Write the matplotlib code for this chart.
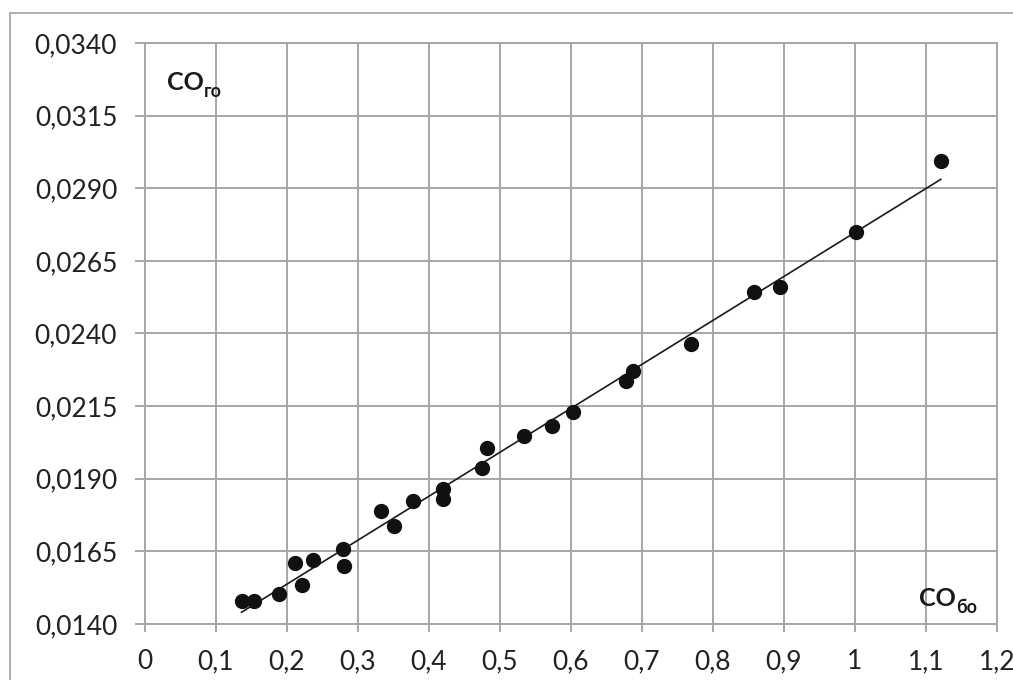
import numpy as np
import matplotlib.pyplot as plt
from matplotlib.patches import Rectangle

# measured points (CO_бо, CO_го)
co_bo = [0.136, 0.153, 0.189, 0.212, 0.221, 0.237, 0.279, 0.280, 0.332, 0.351,
         0.377, 0.420, 0.420, 0.475, 0.482, 0.534, 0.574, 0.603, 0.678, 0.687,
         0.769, 0.858, 0.895, 1.001, 1.121]
co_go = [0.01479, 0.01479, 0.01503, 0.01609, 0.01533, 0.01619, 0.01657, 0.01600, 0.01789, 0.01737,
         0.01822, 0.01866, 0.01830, 0.01936, 0.02005, 0.02048, 0.02083, 0.02131, 0.02238, 0.02272,
         0.02365, 0.02544, 0.02561, 0.02750, 0.02993]

xticks = np.arange(0, 1.21, 0.1)
yticks = np.arange(0.014, 0.03401, 0.0025)

def xfmt(v):
    s = ('%.1f' % v).rstrip('0').rstrip('.')
    return s.replace('.', ',')

plt.rcParams['font.family'] = ['Lato', 'DejaVu Sans']

fig = plt.figure(figsize=(10.13, 6.80), dpi=100)
fig.patches.append(Rectangle((0.0099, -0.1), 1.2, 1.081, transform=fig.transFigure,
                             fill=False, edgecolor='#a8a8a8', lw=1.3))

ax = fig.add_axes([0.1431, 0.0824, 0.841, 0.8544])
gridc = '#a6a6a6'

x = np.array(co_bo)
y = np.array(co_go)
k, b = np.polyfit(x, y, 1)
xl = np.array([x.min(), x.max()])
ax.plot(xl, k * xl + b, color='#1a1a1a', lw=1.2, zorder=3)
ax.plot(x, y, 'o', color='#111111', ms=10, zorder=4)

ax.set_xlim(0, 1.2)
ax.set_ylim(0.014, 0.034)
ax.set_xticks(xticks)
ax.set_yticks(yticks)
ax.set_xticklabels([xfmt(v) for v in xticks])
ax.set_yticklabels([('%.4f' % v).replace('.', ',') for v in yticks])
ax.grid(True, color=gridc, lw=1.4)
ax.set_axisbelow(True)
for s in ax.spines.values():
    s.set_color(gridc)
    s.set_linewidth(1.4)
ax.tick_params(axis='both', colors=gridc, width=1.4, labelcolor='#222222', labelsize=19)
ax.tick_params(axis='y', length=7, pad=13)
ax.tick_params(axis='x', length=6, pad=12)

t1 = ax.text(0.031, 0.03238, 'CO', fontsize=18, fontweight='bold', color='#1a1a1a')
ax.annotate('го', xy=(1, 0), xycoords=t1, xytext=(0, -4), textcoords='offset points',
            fontsize=13, fontweight='bold', color='#1a1a1a', va='bottom')
t2 = ax.text(1.090, 0.01461, 'CO', fontsize=18, fontweight='bold', color='#1a1a1a')
ax.annotate('бо', xy=(1, 0), xycoords=t2, xytext=(0, -4), textcoords='offset points',
            fontsize=13, fontweight='bold', color='#1a1a1a', va='bottom')

fig.savefig('out.png', dpi=100)
